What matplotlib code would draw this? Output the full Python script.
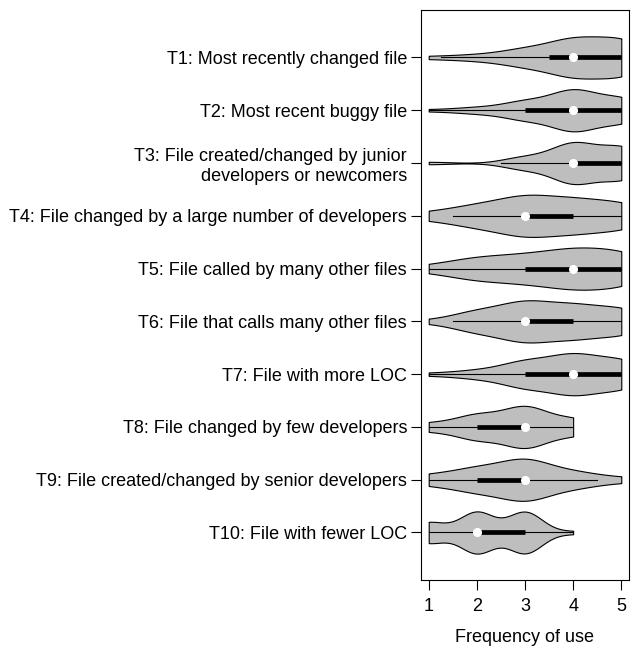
import matplotlib.pyplot as plt
import numpy as np

plt.rcParams['font.family'] = ['Liberation Sans', 'DejaVu Sans']

# categories, top to bottom
labels = [
    'T1: Most recently changed file',
    'T2: Most recent buggy file',
    'T3: File created/changed by junior\ndevelopers or newcomers',
    'T4: File changed by a large number of developers',
    'T5: File called by many other files',
    'T6: File that calls many other files',
    'T7: File with more LOC',
    'T8: File changed by few developers',
    'T9: File created/changed by senior developers',
    'T10: File with fewer LOC',
]

# number of answers per level (1..5) for each technique
levels = [1, 2, 3, 4, 5]
t1 = [1, 2, 6, 13, 13]
t2 = [1, 3, 9, 20, 12]
t3 = [1, 0, 5, 16, 13]
t4 = [3, 8, 15, 12, 10]
t5 = [2, 7, 8, 12, 11]
t6 = [1, 8, 15, 12, 10]
t7 = [1, 3, 10, 15, 11]
t8 = [3, 9, 15, 6, 0]
t9 = [4, 9, 16, 6, 2]
t10 = [15, 30, 30, 2, 0]
counts = [t1, t2, t3, t4, t5, t6, t7, t8, t9, t10]

xticks = [1, 2, 3, 4, 5]

half = 0.4        # max half width of a violin

fig = plt.figure(figsize=(6.31, 6.5), dpi=100)
ax = fig.add_axes([0.6672, 0.1077, 0.3296, 0.877])

for i, c in enumerate(counts):
    pos = i + 1
    data = np.repeat(levels, c).astype(float)
    n = len(data)
    # normal reference bandwidth (as in sm.density)
    bw = data.std(ddof=1) * (4 / (3 * n)) ** 0.2
    lo, hi = data.min(), data.max()
    xs = np.linspace(lo, hi, 300)
    dens = np.exp(-0.5 * ((xs[:, None] - data[None, :]) / bw) ** 2).sum(axis=1)
    hw = dens / dens.max() * half
    ax.fill_between(xs, pos - hw, pos + hw, facecolor='#bebebe',
                    edgecolor='black', linewidth=0.8, zorder=2)

    # box, whiskers and median like vioplot
    q1, med, q3 = np.percentile(data, [25, 50, 75])
    iqr = q3 - q1
    wlo = max(q1 - 1.5 * iqr, lo)
    whi = min(q3 + 1.5 * iqr, hi)
    ax.plot([wlo, whi], [pos, pos], color='black', lw=0.8, zorder=3)
    ax.plot([q1, q3], [pos, pos], color='black', lw=3.4,
            solid_capstyle='butt', zorder=4)
    ax.plot([med], [pos], 'o', color='white', ms=5.5, mec='white', zorder=5)

ax.set_xlim(0.84, 5.16)
ax.set_ylim(len(labels) + 0.9, 0.1)
ax.set_xticks(xticks)
ax.set_yticks(range(1, len(labels) + 1))
ax.set_yticklabels(labels)
ax.tick_params(direction='out', length=7, width=0.8, labelsize=13, pad=3)
ax.tick_params(axis='x', pad=6)
ax.set_xlabel('Frequency of use', fontsize=13, labelpad=10)
for s in ax.spines.values():
    s.set_linewidth(0.8)

plt.savefig('out.png', dpi=100)
plt.close()
